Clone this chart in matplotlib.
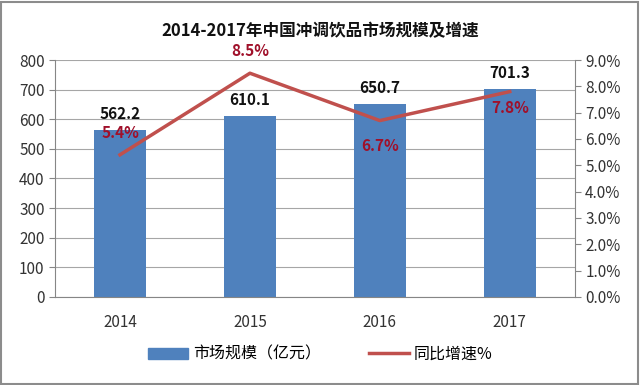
import matplotlib
matplotlib.use('Agg')
import matplotlib.pyplot as plt
from matplotlib.patches import Rectangle
from matplotlib.lines import Line2D

plt.rcParams['font.family'] = ['Noto Sans CJK SC', 'DejaVu Sans']

# Data
years = ['2014', '2015', '2016', '2017']
market_size = [562.2, 610.1, 650.7, 701.3]
growth = [5.4, 8.5, 6.7, 7.8]
growth_offsets = [16, 16, -18, -12]  # label offsets (points) for growth labels

bar_color = '#4f81bd'
line_color = '#c0504d'
label_red = '#a0102a'

fig = plt.figure(figsize=(6.4, 3.85), dpi=100)
ax = fig.add_axes([0.086, 0.229, 0.812, 0.615])
x = list(range(len(years)))

ax.bar(x, market_size, width=0.4, color=bar_color, zorder=2)
ax.set_ylim(0, 800)
ax.set_xlim(-0.5, 3.5)
ax.set_yticks(range(0, 801, 100))
ax.set_xticks(x)
ax.set_xticklabels(years)
ax.grid(axis='y', color='#a6a6a6', linewidth=0.8, zorder=0)
ax.tick_params(axis='y', length=4, color='#868686', labelsize=11, colors='#333333')
ax.tick_params(axis='x', length=0, labelsize=11, colors='#333333', pad=12)
for s in ['top', 'right']:
    ax.spines[s].set_visible(False)
for s in ['left', 'bottom']:
    ax.spines[s].set_color('#868686')

for xi, v in zip(x, market_size):
    ax.annotate(f'{v:.1f}', (xi, v), xytext=(0, 6), textcoords='offset points',
                ha='center', va='bottom', fontsize=11, fontweight='bold', color='#111111')

ax2 = ax.twinx()
ax2.plot(x, growth, color=line_color, linewidth=2.5, zorder=3)
ax2.set_ylim(0, 9)
ax2.set_yticks([i for i in range(10)])
ax2.set_yticklabels([f'{i:.1f}%' for i in range(10)])
ax2.tick_params(axis='y', length=4, color='#868686', labelsize=11, colors='#333333')
for s in ['top', 'left', 'bottom']:
    ax2.spines[s].set_visible(False)
ax2.spines['right'].set_color('#868686')

for xi, g, off in zip(x, growth, growth_offsets):
    ax2.annotate(f'{g:.1f}%', (xi, g), xytext=(0, off), textcoords='offset points',
                 ha='center', va='center', fontsize=11, fontweight='bold', color=label_red)

fig.text(0.5, 0.92, '2014-2017年中国冲调饮品市场规模及增速', ha='center', va='center',
         fontsize=12, fontweight='bold', color='#111111')

handles = [Rectangle((0, 0), 1, 1, color=bar_color),
           Line2D([0], [0], color=line_color, linewidth=2.5)]
fig.legend(handles, ['市场规模（亿元）', '同比增速%'], loc='center', bbox_to_anchor=(0.5, 0.08),
           ncol=2, frameon=False, fontsize=11.5, columnspacing=3, handlelength=2.5,
           handletextpad=0.3)

fig.add_artist(Rectangle((0.002, 0.003), 0.995, 0.992, transform=fig.transFigure,
                         fill=False, edgecolor='#8c8c8c', linewidth=1.5))

fig.savefig('out.png', dpi=100)
